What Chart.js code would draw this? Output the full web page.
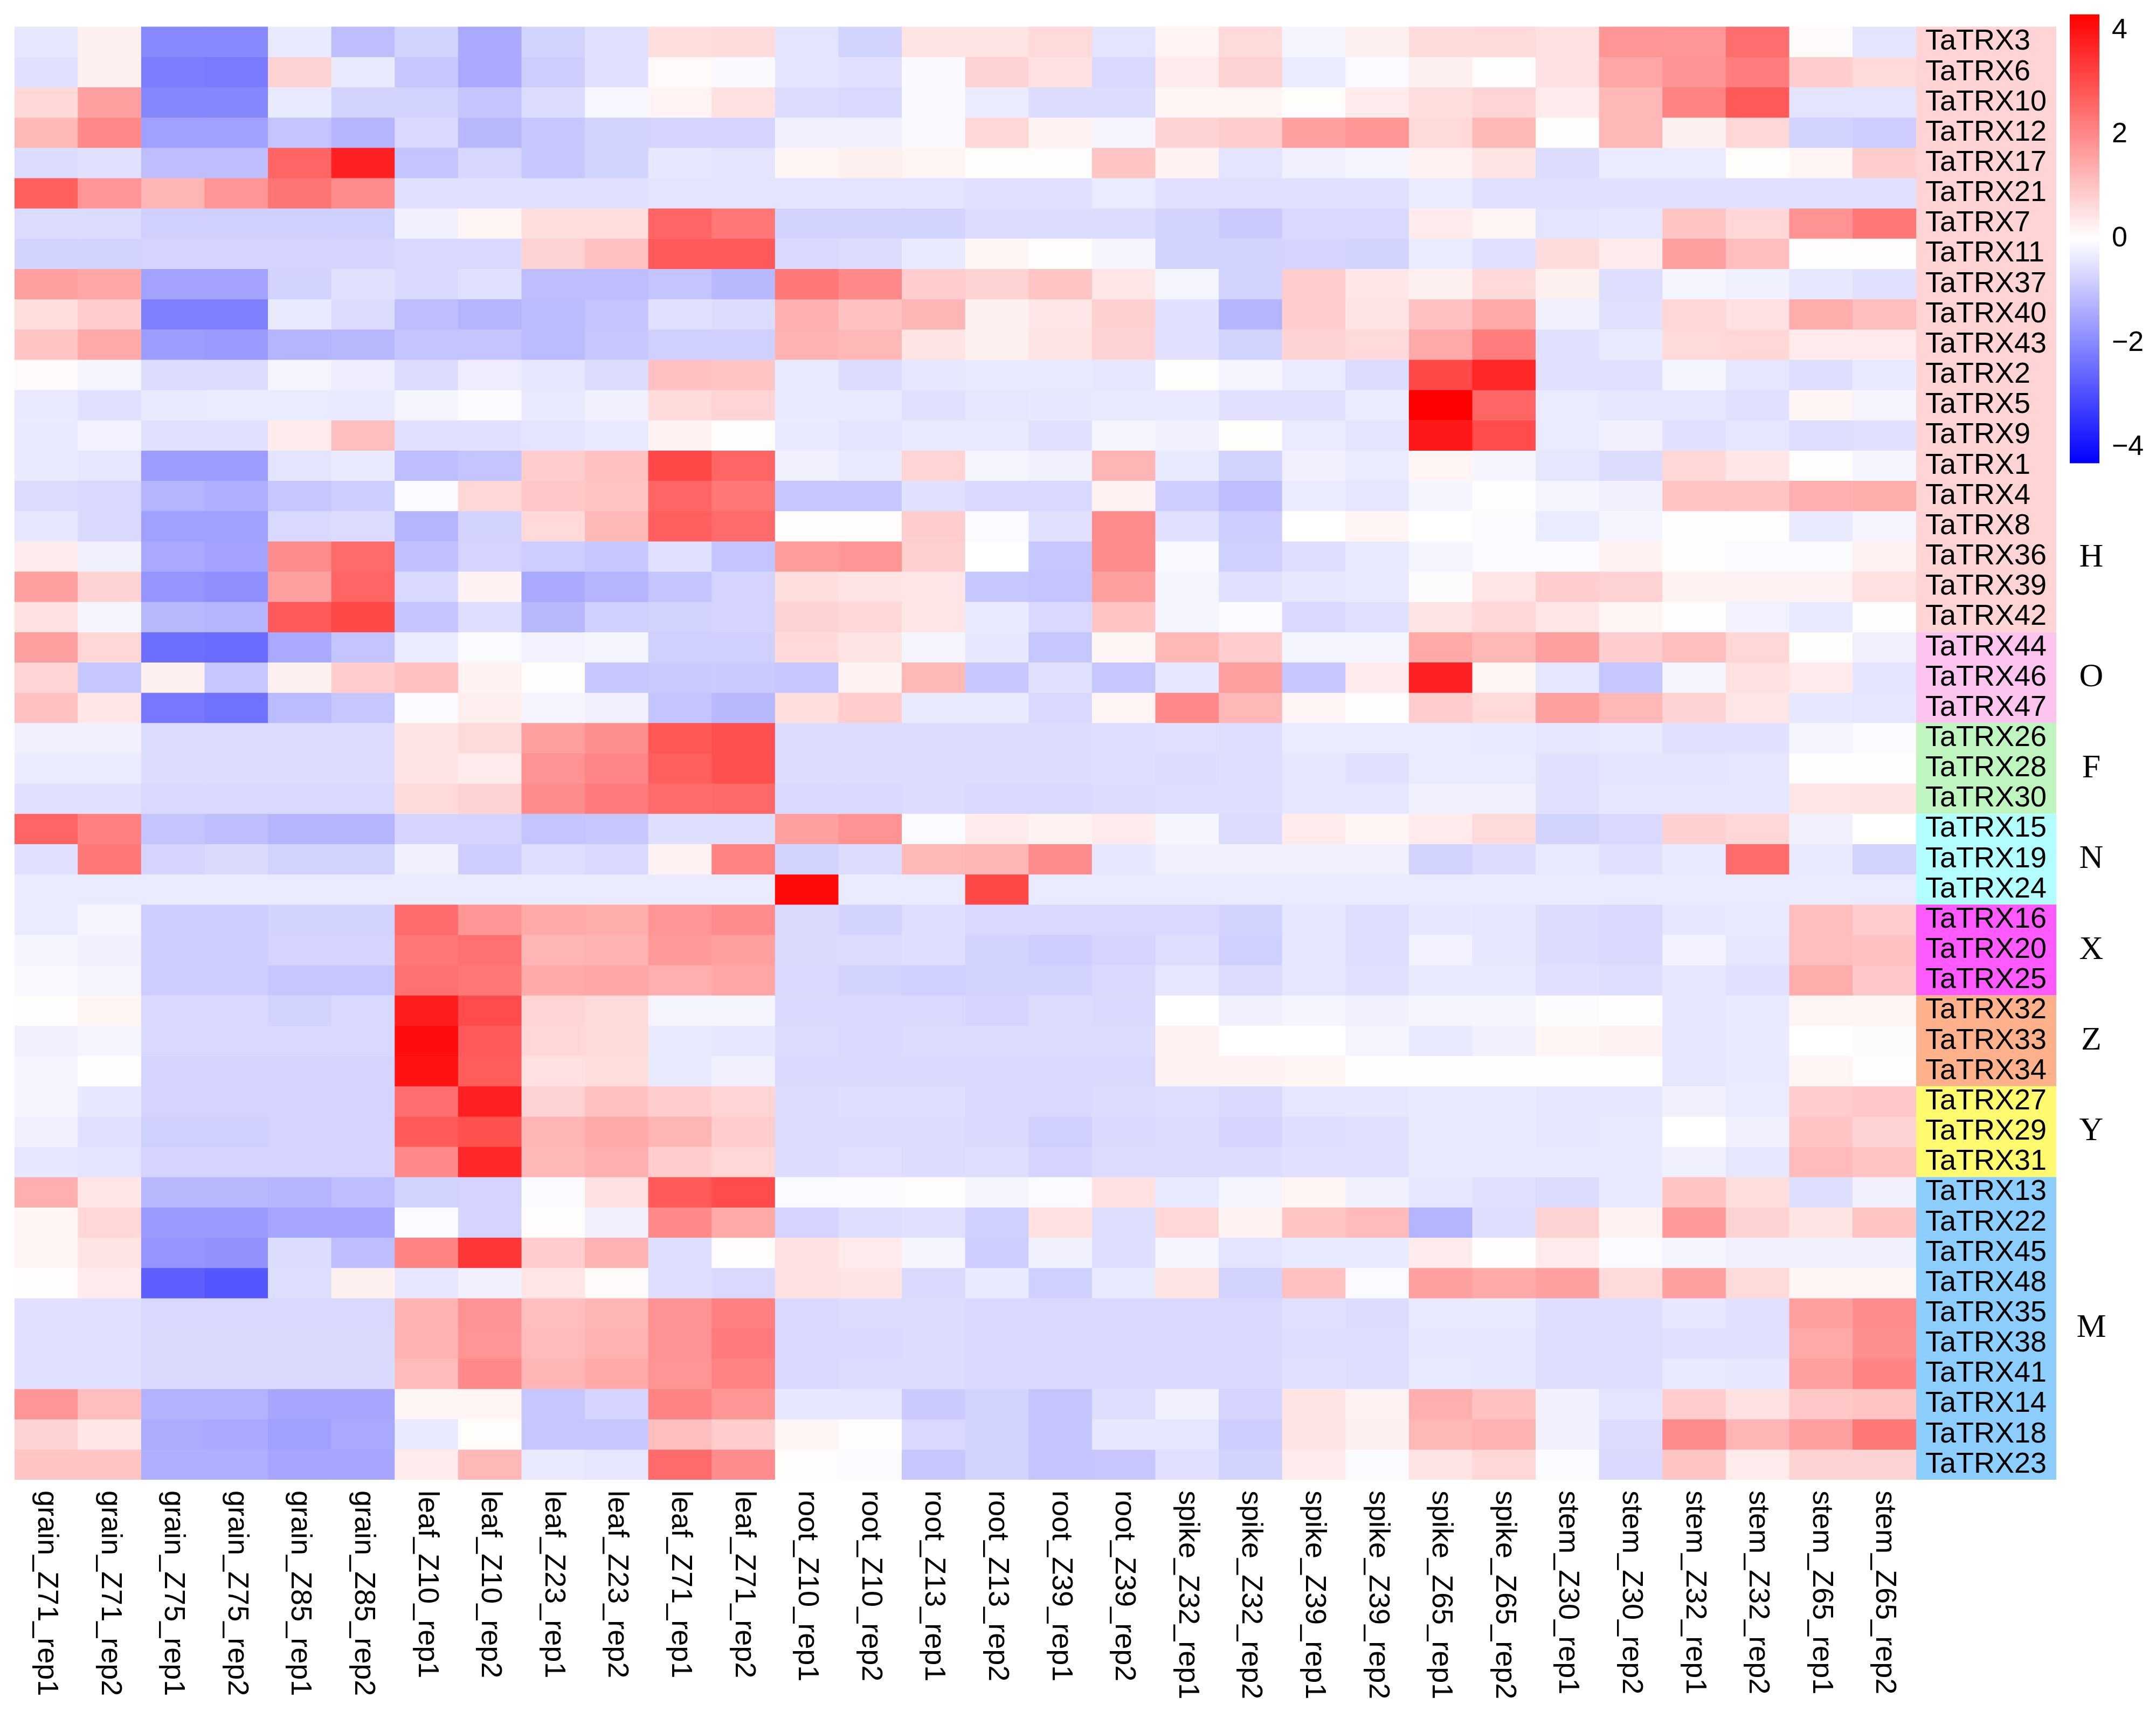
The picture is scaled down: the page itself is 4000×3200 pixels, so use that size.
<!DOCTYPE html>
<html>
<head>
<meta charset="utf-8">
<script src="https://cdn.jsdelivr.net/npm/chart.js@4.4.1/dist/chart.umd.min.js"></script>
<style>
  html, body { margin: 0; padding: 0; background: #fff; }
  #wrap { width: 4000px; height: 3200px; }
</style>
</head>
<body>
<div id="wrap"><canvas id="heat" width="4000" height="3200"></canvas></div>
<script>
const columns = [
    'grain_Z71_rep1', 'grain_Z71_rep2', 'grain_Z75_rep1', 'grain_Z75_rep2', 'grain_Z85_rep1', 'grain_Z85_rep2',
    'leaf_Z10_rep1', 'leaf_Z10_rep2', 'leaf_Z23_rep1', 'leaf_Z23_rep2', 'leaf_Z71_rep1', 'leaf_Z71_rep2',
    'root_Z10_rep1', 'root_Z10_rep2', 'root_Z13_rep1', 'root_Z13_rep2', 'root_Z39_rep1', 'root_Z39_rep2',
    'spike_Z32_rep1', 'spike_Z32_rep2', 'spike_Z39_rep1', 'spike_Z39_rep2', 'spike_Z65_rep1', 'spike_Z65_rep2',
    'stem_Z30_rep1', 'stem_Z30_rep2', 'stem_Z32_rep1', 'stem_Z32_rep2', 'stem_Z65_rep1', 'stem_Z65_rep2'
];

const genesH = ['TaTRX3', 'TaTRX6', 'TaTRX10', 'TaTRX12', 'TaTRX17', 'TaTRX21', 'TaTRX7', 'TaTRX11', 'TaTRX37', 'TaTRX40',
    'TaTRX43', 'TaTRX2', 'TaTRX5', 'TaTRX9', 'TaTRX1', 'TaTRX4', 'TaTRX8', 'TaTRX36', 'TaTRX39', 'TaTRX42'];
const valsH = [
    [-0.4, 0.25, -2.0, -2.0, -0.35, -1.1, -0.75, -1.45, -0.75, -0.5, 0.55, 0.6, -0.45, -0.75, 0.45, 0.45, 0.62, -0.45, 0.2, 0.62, -0.17, 0.25, 0.6, 0.62, 0.5, 1.8, 1.75, 2.45, 0.08, -0.45],
    [-0.5, 0.25, -2.2, -2.25, 0.75, -0.35, -0.95, -1.45, -0.85, -0.5, 0.1, -0.1, -0.45, -0.5, -0.1, 0.75, 0.5, -0.65, 0.33, 0.75, -0.33, -0.08, 0.25, 0.05, 0.5, 1.5, 1.85, 2.2, 0.85, 0.62],
    [0.65, 1.6, -2.05, -2.05, -0.35, -0.75, -0.75, -1.0, -0.6, -0.15, 0.2, 0.5, -0.6, -0.65, -0.1, -0.33, -0.6, -0.6, 0.17, 0.17, 0.05, 0.33, 0.55, 0.72, 0.33, 1.2, 2.1, 2.8, -0.45, -0.45],
    [1.2, 2.0, -1.6, -1.6, -1.0, -1.25, -0.65, -1.2, -0.95, -0.75, -0.72, -0.72, -0.25, -0.25, -0.1, 0.68, 0.22, -0.17, 0.75, 0.85, 1.6, 1.8, 0.62, 1.2, 0.05, 1.2, 0.25, 0.68, -0.75, -0.85],
    [-0.6, -0.5, -1.1, -1.1, 2.6, 3.75, -1.0, -0.7, -0.95, -0.75, -0.4, -0.45, 0.17, 0.25, 0.17, 0.05, 0.05, 1.0, 0.22, -0.45, -0.25, -0.17, 0.22, 0.45, -0.6, -0.33, -0.33, 0.05, 0.17, 0.85],
    [2.7, 1.8, 1.25, 1.8, 2.35, 1.95, -0.5, -0.5, -0.5, -0.5, -0.45, -0.45, -0.45, -0.45, -0.45, -0.5, -0.5, -0.33, -0.5, -0.5, -0.5, -0.5, -0.33, -0.5, -0.5, -0.5, -0.5, -0.5, -0.5, -0.5],
    [-0.6, -0.6, -0.8, -0.8, -0.8, -0.8, -0.25, 0.17, 0.55, 0.55, 2.6, 2.3, -0.75, -0.75, -0.75, -0.6, -0.6, -0.6, -0.75, -0.9, -0.65, -0.65, 0.33, 0.17, -0.45, -0.42, 1.0, 0.68, 1.85, 2.3],
    [-0.75, -0.75, -0.72, -0.72, -0.72, -0.72, -0.65, -0.65, 0.75, 1.05, 2.8, 2.8, -0.65, -0.6, -0.35, 0.17, 0.05, -0.17, -0.75, -0.75, -0.72, -0.75, -0.33, -0.5, 0.6, 0.33, 1.6, 1.1, 0.05, 0.05],
    [1.6, 1.5, -1.55, -1.55, -0.75, -0.5, -0.65, -0.5, -1.1, -1.1, -1.0, -1.2, 2.3, 2.0, 0.85, 0.75, 1.0, 0.42, -0.17, -0.75, 0.85, 0.4, 0.25, 0.62, 0.25, -0.55, -0.17, -0.25, -0.4, -0.5],
    [0.55, 0.85, -2.15, -2.15, -0.35, -0.6, -1.1, -1.25, -1.15, -1.0, -0.5, -0.6, 1.35, 1.05, 1.25, 0.25, 0.42, 0.8, -0.5, -1.25, 0.85, 0.45, 1.05, 1.45, -0.25, -0.5, 0.68, 0.5, 1.4, 1.1],
    [1.0, 1.45, -1.65, -1.7, -1.25, -1.2, -1.0, -1.0, -1.15, -0.95, -0.8, -0.8, 1.3, 1.2, 0.45, 0.25, 0.45, 0.75, -0.5, -0.75, 0.75, 0.62, 1.45, 2.2, -0.5, -0.35, 0.62, 0.68, 0.33, 0.33],
    [0.08, -0.17, -0.6, -0.6, -0.17, -0.3, -0.6, -0.3, -0.4, -0.6, 1.05, 1.0, -0.35, -0.6, -0.4, -0.35, -0.35, -0.42, 0.05, -0.17, -0.33, -0.6, 3.1, 3.65, -0.5, -0.5, -0.17, -0.42, -0.55, -0.35],
    [-0.35, -0.5, -0.38, -0.33, -0.33, -0.38, -0.17, -0.08, -0.35, -0.25, 0.6, 0.72, -0.35, -0.38, -0.5, -0.42, -0.4, -0.38, -0.38, -0.5, -0.5, -0.33, 4.31, 2.6, -0.33, -0.42, -0.42, -0.5, 0.17, -0.17],
    [-0.38, -0.22, -0.5, -0.5, 0.33, 1.1, -0.5, -0.5, -0.45, -0.35, 0.22, 0.05, -0.35, -0.45, -0.38, -0.38, -0.5, -0.17, -0.25, 0.05, -0.33, -0.45, 3.9, 3.05, -0.33, -0.25, -0.5, -0.42, -0.55, -0.5],
    [-0.35, -0.42, -1.65, -1.65, -0.45, -0.35, -1.1, -1.0, 0.85, 1.05, 3.1, 2.6, -0.25, -0.38, 0.72, -0.17, -0.25, 1.25, -0.38, -0.75, -0.25, -0.33, 0.17, -0.17, -0.42, -0.6, 0.68, 0.4, 0.05, -0.17],
    [-0.6, -0.65, -1.25, -1.35, -0.95, -0.85, -0.08, 0.68, 0.95, 1.0, 2.6, 2.3, -0.95, -0.95, -0.5, -0.65, -0.65, 0.22, -0.85, -1.1, -0.33, -0.42, -0.17, 0.05, -0.17, -0.25, 1.0, 1.0, 1.35, 1.4],
    [-0.4, -0.65, -1.6, -1.6, -0.65, -0.6, -1.25, -0.75, 0.62, 1.2, 2.7, 2.5, 0.05, 0.05, 0.85, -0.08, -0.5, 1.95, -0.5, -0.85, 0, 0.17, 0, -0.08, -0.33, -0.17, 0.03, 0.03, -0.35, -0.17],
    [0.33, -0.25, -1.45, -1.55, 1.95, 2.5, -1.05, -0.72, -0.85, -0.95, -0.5, -1.0, 1.65, 1.8, 0.8, 0, -0.95, 1.95, -0.12, -0.8, -0.55, -0.35, -0.17, -0.08, -0.08, 0.22, 0.05, -0.08, -0.08, 0.22],
    [1.6, 0.75, -1.8, -1.9, 1.6, 2.6, -0.65, 0.22, -1.45, -1.25, -1.0, -0.72, 0.55, 0.45, 0.42, -0.95, -1.0, 1.6, -0.17, -0.5, -0.4, -0.35, -0.05, 0.42, 0.85, 0.75, 0.22, 0.22, 0.22, 0.5],
    [0.5, -0.17, -1.2, -1.25, 2.8, 3.1, -1.0, -0.55, -1.2, -0.8, -0.75, -0.72, 0.75, 0.68, 0.42, -0.35, -0.65, 1.0, -0.17, -0.08, -0.65, -0.5, 0.45, 0.68, 0.4, 0.17, 0.05, -0.22, -0.35, 0.05]
];

const genesO = ['TaTRX44', 'TaTRX46', 'TaTRX47'];
const valsO = [
    [1.6, 0.68, -2.45, -2.5, -1.45, -1.0, -0.33, -0.08, -0.22, -0.17, -0.8, -0.8, 0.62, 0.45, -0.17, -0.4, -0.95, 0.17, 1.2, 0.85, -0.17, -0.17, 1.45, 1.2, 1.6, 0.85, 1.1, 0.68, 0.03, -0.25],
    [0.72, -0.95, 0.25, -0.95, 0.25, 0.85, 1.05, 0.22, 0.05, -0.95, -0.9, -0.9, -0.95, 0.22, 1.2, -0.95, -0.5, -0.95, -0.4, 1.6, -0.95, 0.33, 3.75, 0.17, -0.42, -0.95, -0.17, 0.5, 0.33, -0.45],
    [1.05, 0.4, -2.3, -2.4, -1.15, -0.95, -0.08, 0.28, -0.17, -0.25, -1.0, -1.2, 0.55, 0.85, -0.35, -0.35, -0.65, 0.17, 2.0, 1.2, 0.17, 0.03, 0.85, 0.62, 1.6, 1.2, 0.75, 0.42, -0.4, -0.42]
];

const genesF = ['TaTRX26', 'TaTRX28', 'TaTRX30'];
const valsF = [
    [-0.25, -0.25, -0.6, -0.6, -0.6, -0.6, 0.45, 0.62, 1.6, 1.9, 2.85, 2.95, -0.6, -0.6, -0.6, -0.6, -0.6, -0.55, -0.5, -0.55, -0.33, -0.33, -0.33, -0.38, -0.42, -0.38, -0.5, -0.5, -0.17, -0.08],
    [-0.33, -0.33, -0.6, -0.6, -0.6, -0.6, 0.45, 0.33, 1.85, 2.05, 2.7, 2.95, -0.6, -0.6, -0.6, -0.6, -0.6, -0.55, -0.6, -0.55, -0.42, -0.5, -0.33, -0.33, -0.5, -0.45, -0.45, -0.42, 0.03, 0.03],
    [-0.5, -0.5, -0.65, -0.65, -0.65, -0.65, 0.62, 0.75, 1.95, 2.25, 2.5, 2.55, -0.65, -0.65, -0.6, -0.65, -0.65, -0.6, -0.55, -0.55, -0.42, -0.42, -0.25, -0.25, -0.5, -0.42, -0.42, -0.42, 0.42, 0.45]
];

const genesN = ['TaTRX15', 'TaTRX19', 'TaTRX24'];
const valsN = [
    [2.6, 2.15, -1.0, -1.1, -1.25, -1.25, -0.72, -0.72, -1.0, -0.95, -0.55, -0.55, 1.6, 1.85, -0.08, 0.33, 0.22, 0.33, -0.17, -0.6, 0.33, 0.17, 0.33, 0.62, -0.75, -0.65, 0.8, 0.68, -0.25, 0],
    [-0.5, 2.3, -0.72, -0.62, -0.75, -0.75, -0.25, -0.85, -0.55, -0.65, 0.22, 2.1, -0.75, -0.6, 1.2, 1.25, 1.95, -0.4, -0.25, -0.25, -0.25, -0.25, -0.75, -0.6, -0.35, -0.5, -0.35, 2.5, -0.35, -0.75],
    [-0.33, -0.33, -0.33, -0.33, -0.33, -0.33, -0.33, -0.33, -0.33, -0.33, -0.33, -0.33, 4.15, -0.33, -0.33, 3.1, -0.33, -0.33, -0.33, -0.33, -0.33, -0.33, -0.33, -0.33, -0.33, -0.33, -0.33, -0.33, -0.33, -0.33]
];

const genesX = ['TaTRX16', 'TaTRX20', 'TaTRX25'];
const valsX = [
    [-0.33, -0.17, -0.85, -0.85, -0.75, -0.75, 2.5, 1.8, 1.45, 1.4, 1.8, 1.95, -0.62, -0.75, -0.55, -0.65, -0.65, -0.65, -0.65, -0.75, -0.42, -0.55, -0.4, -0.42, -0.6, -0.65, -0.4, -0.35, 1.1, 0.85],
    [-0.17, -0.25, -0.85, -0.85, -0.72, -0.72, 2.3, 2.4, 1.25, 1.3, 1.7, 1.6, -0.62, -0.6, -0.55, -0.75, -0.85, -0.72, -0.55, -0.8, -0.4, -0.55, -0.22, -0.4, -0.6, -0.65, -0.22, -0.42, 1.1, 1.05],
    [-0.12, -0.17, -0.85, -0.85, -0.95, -0.95, 2.4, 2.3, 1.45, 1.5, 1.35, 1.5, -0.65, -0.75, -0.8, -0.75, -0.75, -0.65, -0.42, -0.6, -0.42, -0.5, -0.35, -0.35, -0.5, -0.55, -0.4, -0.5, 1.4, 0.95]
];

const genesZ = ['TaTRX32', 'TaTRX33', 'TaTRX34'];
const valsZ = [
    [0.05, 0.17, -0.65, -0.65, -0.75, -0.65, 3.8, 3.05, 0.72, 0.62, -0.17, -0.17, -0.65, -0.65, -0.65, -0.72, -0.6, -0.65, 0, -0.25, -0.17, -0.25, -0.17, -0.17, -0.05, 0.03, -0.42, -0.38, 0.17, 0.17],
    [-0.25, -0.17, -0.65, -0.65, -0.65, -0.65, 4.1, 2.8, 0.68, 0.62, -0.35, -0.4, -0.6, -0.65, -0.6, -0.6, -0.6, -0.6, 0.22, 0, 0, -0.17, -0.35, -0.25, 0.17, 0.22, -0.42, -0.38, 0, -0.05],
    [-0.17, 0.05, -0.72, -0.72, -0.72, -0.72, 4.0, 2.75, 0.5, 0.55, -0.35, -0.25, -0.65, -0.65, -0.65, -0.65, -0.65, -0.65, 0.22, 0.22, 0.17, 0.03, 0.03, 0.03, 0.03, 0.03, -0.42, -0.38, 0.17, 0.03]
];

const genesY = ['TaTRX27', 'TaTRX29', 'TaTRX31'];
const valsY = [
    [-0.17, -0.4, -0.72, -0.72, -0.72, -0.72, 2.45, 3.75, 0.75, 1.05, 0.85, 0.72, -0.6, -0.55, -0.55, -0.65, -0.65, -0.6, -0.55, -0.65, -0.42, -0.42, -0.38, -0.38, -0.42, -0.42, -0.25, -0.33, 0.85, 0.95],
    [-0.25, -0.5, -0.8, -0.8, -0.72, -0.72, 2.8, 2.95, 1.25, 1.45, 1.25, 0.85, -0.6, -0.6, -0.6, -0.65, -0.8, -0.65, -0.6, -0.72, -0.55, -0.5, -0.35, -0.35, -0.42, -0.38, 0, -0.25, 1.0, 0.75],
    [-0.4, -0.45, -0.72, -0.72, -0.72, -0.72, 2.0, 3.65, 1.2, 1.35, 0.85, 0.68, -0.6, -0.5, -0.6, -0.55, -0.72, -0.6, -0.6, -0.6, -0.5, -0.5, -0.35, -0.38, -0.38, -0.38, -0.25, -0.42, 1.15, 1.0]
];

const genesM = ['TaTRX13', 'TaTRX22', 'TaTRX45', 'TaTRX48', 'TaTRX35', 'TaTRX38', 'TaTRX41', 'TaTRX14', 'TaTRX18', 'TaTRX23'];
const valsM = [
    [1.35, 0.4, -1.2, -1.2, -1.25, -1.1, -0.75, -0.72, -0.08, 0.5, 2.8, 3.05, -0.08, -0.08, 0.05, -0.17, -0.08, 0.5, -0.35, -0.17, 0.17, -0.25, -0.42, -0.5, -0.6, -0.35, 1.0, 0.55, -0.55, -0.25],
    [0.17, 0.68, -1.7, -1.7, -1.5, -1.5, -0.08, -0.72, 0.05, -0.25, 2.0, 1.45, -0.72, -0.55, -0.5, -0.8, 0.5, -0.55, 0.68, 0.22, 1.0, 1.15, -1.25, -0.55, 0.75, 0.22, 1.7, 0.75, 0.45, 1.0],
    [0.17, 0.45, -1.8, -1.85, -0.6, -1.1, 2.1, 3.4, 0.85, 1.3, -0.55, 0.05, 0.5, 0.33, -0.17, -0.85, -0.25, -0.55, -0.17, -0.45, -0.35, -0.35, 0.33, 0.03, 0.33, -0.08, -0.17, -0.25, -0.25, -0.25],
    [0.05, 0.33, -2.7, -2.85, -0.55, 0.25, -0.42, -0.25, 0.42, 0.08, -0.55, -0.65, 0.5, 0.45, -0.65, -0.35, -0.8, -0.35, 0.45, -0.75, 1.05, -0.08, 1.6, 1.45, 1.6, 0.62, 1.6, 0.62, 0.17, 0.17],
    [-0.5, -0.5, -0.65, -0.65, -0.65, -0.65, 1.3, 1.85, 1.1, 1.25, 1.85, 2.15, -0.65, -0.6, -0.6, -0.65, -0.65, -0.65, -0.65, -0.65, -0.5, -0.6, -0.35, -0.35, -0.55, -0.55, -0.4, -0.5, 1.6, 1.95],
    [-0.5, -0.5, -0.62, -0.62, -0.62, -0.62, 1.3, 1.8, 1.15, 1.3, 1.85, 2.25, -0.65, -0.65, -0.6, -0.65, -0.65, -0.65, -0.65, -0.65, -0.55, -0.55, -0.4, -0.4, -0.55, -0.55, -0.5, -0.5, 1.45, 1.9],
    [-0.5, -0.5, -0.62, -0.62, -0.62, -0.62, 1.15, 2.0, 1.25, 1.45, 1.8, 2.1, -0.65, -0.6, -0.6, -0.65, -0.65, -0.65, -0.65, -0.65, -0.5, -0.55, -0.35, -0.4, -0.55, -0.55, -0.35, -0.4, 1.6, 2.1],
    [1.8, 1.1, -1.3, -1.3, -1.5, -1.5, 0.17, 0.17, -0.95, -0.72, 2.1, 1.8, -0.4, -0.4, -0.9, -0.75, -1.0, -0.55, -0.25, -0.72, 0.45, 0.22, 1.35, 1.05, -0.25, -0.45, 0.85, 0.5, 0.95, 1.0],
    [0.75, 0.4, -1.4, -1.45, -1.6, -1.45, -0.35, 0.05, -0.95, -0.95, 1.1, 0.85, 0.17, 0.05, -0.65, -0.75, -1.0, -0.4, -0.4, -0.85, 0.45, 0.25, 1.2, 1.3, -0.25, -0.6, 1.95, 1.25, 1.6, 2.3],
    [1.0, 1.0, -1.35, -1.35, -1.5, -1.5, 0.33, 1.2, -0.35, -0.42, 2.5, 1.95, 0.05, -0.08, -0.95, -0.75, -1.0, -0.95, -0.5, -0.75, 0.33, -0.08, 0.45, 0.68, -0.08, -0.65, 1.0, 0.33, 0.75, 0.75]
];

const familyNames = ['H', 'O', 'F', 'N', 'X', 'Z', 'Y', 'M'];
const familyGenes = [genesH, genesO, genesF, genesN, genesX, genesZ, genesY, genesM];
const familyVals = [valsH, valsO, valsF, valsN, valsX, valsZ, valsY, valsM];
const legendTicks = [4, 2, 0, -2, -4];

// styles
const familyColors = ['#ffd4d4', '#fcc4ee', '#bff5bf', '#b3ffff', '#ff5aff', '#ffb18c', '#fffa6e', '#8ccfff'];
const VMAX = 4.31;
const SANS = '"Liberation Sans", Arial, sans-serif';
const SERIF = '"Liberation Serif", "Times New Roman", serif';

const genes = familyGenes.flat();
const values = familyVals.flat();

const colorFor = (v) => {
    const t = Math.min(Math.abs(v) / VMAX, 1);
    const c = Math.round(255 * (1 - t));
    return v >= 0 ? `rgb(255,${c},${c})` : `rgb(${c},${c},255)`;
};

const datasets = genes.map((g, i) => ({
    label: g,
    data: columns.map(() => 1),
    backgroundColor: values[i].map(colorFor),
    borderWidth: 0,
    barPercentage: 1,
    categoryPercentage: 1,
    stack: 'rows'
}));

// family ranges in row units
const familyRanges = [];
let start = 0;
familyGenes.forEach((list) => {
    familyRanges.push([start, start + list.length]);
    start += list.length;
});

const decor = {
    id: 'decor',
    beforeDraw(chart) {
        const ctx = chart.ctx;
        const y = chart.scales.y;
        const area = chart.chartArea;
        ctx.save();
        familyRanges.forEach(([a, b], k) => {
            const top = y.getPixelForValue(a);
            const bot = y.getPixelForValue(b);
            ctx.fillStyle = familyColors[k];
            ctx.fillRect(area.right, top, 260, bot - top);
        });
        ctx.restore();
    },
    afterDraw(chart) {
        const ctx = chart.ctx;
        const x = chart.scales.x;
        const y = chart.scales.y;
        const area = chart.chartArea;
        ctx.save();

        // column labels, rotated
        ctx.fillStyle = '#000';
        ctx.font = `54px ${SANS}`;
        ctx.textAlign = 'left';
        ctx.textBaseline = 'middle';
        columns.forEach((c, i) => {
            ctx.save();
            ctx.translate(x.getPixelForValue(i), area.bottom + 20);
            ctx.rotate(Math.PI / 2);
            ctx.fillText(c, 0, 0);
            ctx.restore();
        });

        // family letters
        ctx.font = `62px ${SERIF}`;
        ctx.textAlign = 'center';
        familyRanges.forEach(([a, b], k) => {
            const mid = familyNames[k] === 'H' ? 17.55 : (a + b) / 2;
            ctx.fillText(familyNames[k], 3880, y.getPixelForValue(mid));
        });

        // colour key
        const kx = 3840, kw = 55, k0 = 443, unit = 96.6;
        const kTop = k0 - VMAX * unit, kBot = k0 + VMAX * unit;
        const grad = ctx.createLinearGradient(0, kTop, 0, kBot);
        grad.addColorStop(0, 'rgb(255,0,0)');
        grad.addColorStop(0.5, 'rgb(255,255,255)');
        grad.addColorStop(1, 'rgb(0,0,255)');
        ctx.fillStyle = grad;
        ctx.fillRect(kx, kTop, kw, kBot - kTop);
        ctx.fillStyle = '#000';
        ctx.font = `52px ${SANS}`;
        ctx.textAlign = 'left';
        legendTicks.forEach((t) => {
            const label = t < 0 ? '\u2212' + Math.abs(t) : String(t);
            ctx.fillText(label, 3918, k0 - t * unit);
        });
        ctx.restore();
    }
};

const ctx = document.getElementById('heat').getContext('2d');
const heat = new Chart(ctx, {
    type: 'bar',
    data: { labels: columns, datasets: datasets },
    options: {
        responsive: false,
        devicePixelRatio: 1,
        animation: false,
        events: [],
        layout: { padding: { left: 27, top: 27, right: 0, bottom: 455 } },
        plugins: { legend: { display: false }, tooltip: { enabled: false } },
        scales: {
            x: { stacked: true, display: false },
            y: { stacked: true, display: false, reverse: true, min: 0, max: genes.length },
            y2: {
                type: 'category',
                labels: genes,
                position: 'right',
                offset: true,
                grid: { display: false, drawTicks: false },
                border: { display: false },
                ticks: {
                    autoSkip: false,
                    padding: 17,
                    color: '#000',
                    font: { family: SANS, size: 54 }
                },
                afterFit: (scale) => { scale.width = 445; }
            }
        }
    },
    plugins: [decor]
});
</script>
</body>
</html>
